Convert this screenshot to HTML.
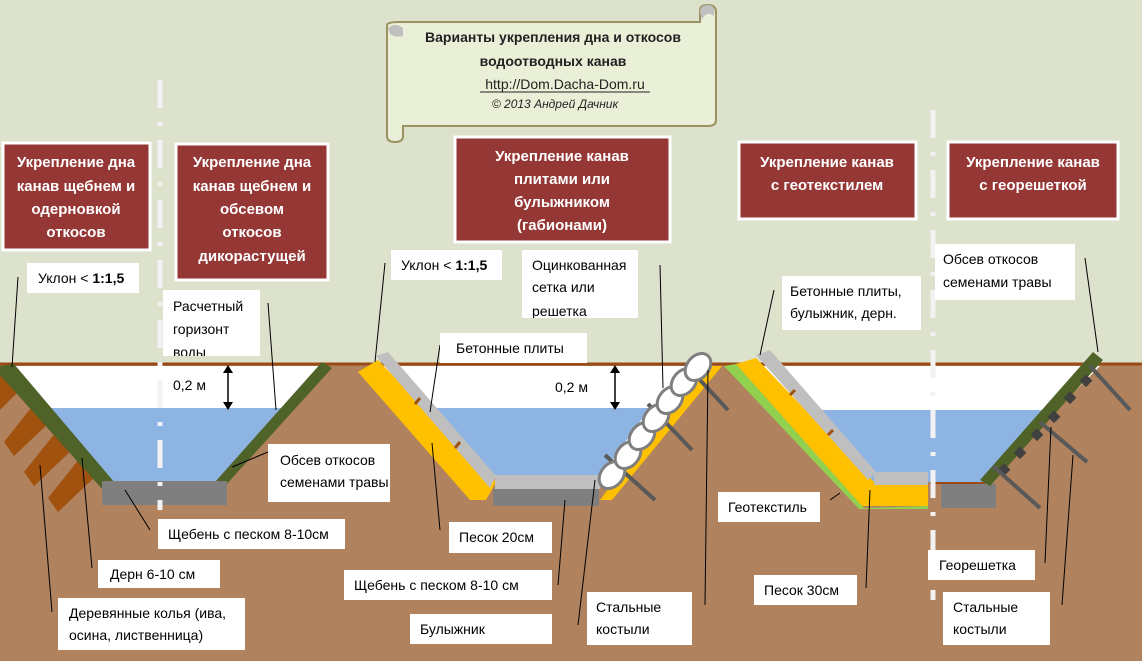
<!DOCTYPE html>
<html><head><meta charset="utf-8"><style>
body{margin:0;background:#dde2cc;}
svg{display:block}
text{font-family:"Liberation Sans","DejaVu Sans",sans-serif;}
.l{font-size:14px;fill:#000}
.t{font-size:15px;fill:#fff;font-weight:bold}
</style></head><body>
<svg width="1142" height="661" viewBox="0 0 1142 661" xmlns="http://www.w3.org/2000/svg">
<rect width="1142" height="661" fill="#dde2cc"/>
<rect x="0" y="364" width="1142" height="297" fill="#b0825e"/>
<line x1="0" y1="364" x2="1142" y2="364" stroke="#9a4a14" stroke-width="3"/>
<!-- Section 1 -->
<polygon points="8,366 325,366 218,482 108,482" fill="#fff"/>
<polygon points="42,408 283,408 218,481 105,481" fill="#8db4e2"/>
<g fill="#a0520e">
<polygon points="8,368 26,384 0,410 0,376"/>
<polygon points="34,404 52,420 14,456 4,442"/>
<polygon points="56,432 74,448 34,486 24,472"/>
<polygon points="80,458 98,474 58,512 48,498"/>
</g>
<polygon points="0,366 14,364 115,483 103,490 0,375" fill="#4f6228"/>
<polygon points="215,482 322,362 332,368 225,486" fill="#4f6228"/>
<rect x="102" y="481" width="125" height="24" fill="#7f7f7f"/>
<!-- Section 2 -->
<polygon points="375,366 712,366 600,476 495,476" fill="#fff"/>
<polygon points="425,408 650,408 600,476 492,476" fill="#8db4e2"/>
<polygon points="358,372 378,360 496,482 486,500 470,500" fill="#ffc000"/>
<polygon points="376,356 388,352 496,476 490,488" fill="#bfbfbf"/>
<line x1="415" y1="404" x2="420" y2="398" stroke="#a0520e" stroke-width="3"/>
<line x1="455" y1="448" x2="460" y2="442" stroke="#a0520e" stroke-width="3"/>
<rect x="495" y="475" width="105" height="14" fill="#bfbfbf"/>
<rect x="493" y="489" width="106" height="17" fill="#7f7f7f"/>
<polygon points="600,500 700,366 722,366 612,500" fill="#ffc000"/>
<g stroke="#595959" stroke-width="4">
<line x1="605" y1="455" x2="655" y2="500"/>
<line x1="648" y1="404" x2="692" y2="450"/>
<line x1="685" y1="364" x2="728" y2="410"/>
</g>
<g fill="#fff" stroke="#7f7f7f" stroke-width="3">
<ellipse cx="612" cy="475" rx="15" ry="11" transform="rotate(-50 612 475)"/>
<ellipse cx="628" cy="455" rx="15" ry="11" transform="rotate(-50 628 455)"/>
<ellipse cx="642" cy="436" rx="15" ry="11" transform="rotate(-50 642 436)"/>
<ellipse cx="656" cy="418" rx="15" ry="11" transform="rotate(-50 656 418)"/>
<ellipse cx="670" cy="400" rx="15" ry="11" transform="rotate(-50 670 400)"/>
<ellipse cx="684" cy="382" rx="15" ry="11" transform="rotate(-50 684 382)"/>
<ellipse cx="698" cy="367" rx="15" ry="11" transform="rotate(-50 698 367)"/>
</g>
<!-- Section 3 -->
<polygon points="760,366 1100,366 985,482 870,482 800,410" fill="#fff"/>
<polygon points="815,410 1045,410 985,482 870,482" fill="#8db4e2"/>
<polygon points="724,366 736,364 864,508 928,506 928,509 859,509" fill="#92d050"/>
<polygon points="736,364 756,358 876,484 928,484 928,506 862,506" fill="#ffc000"/>
<polygon points="756,355 770,350 876,472 868,480" fill="#bfbfbf"/>
<line x1="790" y1="395" x2="795" y2="390" stroke="#a0520e" stroke-width="3"/>
<line x1="828" y1="435" x2="833" y2="430" stroke="#a0520e" stroke-width="3"/>
<rect x="874" y="472" width="54" height="13" fill="#bfbfbf"/>
<!-- Section 4 -->
<rect x="941" y="484" width="55" height="24" fill="#7f7f7f"/>
<line x1="930" y1="483" x2="985" y2="483" stroke="#9a4a14" stroke-width="2"/>
<polygon points="980,480 1093,352 1103,360 990,486" fill="#4f6228"/>
<g fill="#404040">
<rect x="1000" y="465" width="9" height="9" transform="rotate(45 1004 469)"/>
<rect x="1016" y="448" width="9" height="9" transform="rotate(45 1020 452)"/>
<rect x="1033" y="430" width="9" height="9" transform="rotate(45 1037 434)"/>
<rect x="1050" y="412" width="9" height="9" transform="rotate(45 1054 416)"/>
<rect x="1066" y="393" width="9" height="9" transform="rotate(45 1070 397)"/>
<rect x="1082" y="376" width="9" height="9" transform="rotate(45 1086 380)"/>
</g>
<g stroke="#595959" stroke-width="4">
<line x1="993" y1="466" x2="1040" y2="508"/>
<line x1="1040" y1="422" x2="1087" y2="462"/>
<line x1="1090" y1="366" x2="1130" y2="410"/>
</g>
<g stroke="#f2f2f2" stroke-width="5" stroke-dasharray="28,14,4,14">
<line x1="160" y1="80" x2="160" y2="510"/>
<line x1="933" y1="110" x2="933" y2="600"/>
</g>
<g stroke="#000" stroke-width="1.5">
<line x1="228" y1="370" x2="228" y2="406"/><line x1="615" y1="370" x2="615" y2="406"/>
</g>
<g fill="#000">
<polygon points="228,365 223,373 233,373"/><polygon points="228,410 223,402 233,402"/>
<polygon points="615,365 610,373 620,373"/><polygon points="615,410 610,402 620,402"/>
</g>
<text class="l" x="173" y="390">0,2 м</text>
<text class="l" x="555" y="392">0,2 м</text>
<g stroke="#000" stroke-width="1" fill="none">
<line x1="18" y1="277" x2="12" y2="367"/>
<line x1="268" y1="303" x2="276" y2="410"/>
<line x1="385" y1="263" x2="375" y2="362"/>
<line x1="440" y1="345" x2="430" y2="412"/>
<line x1="660" y1="265" x2="663" y2="388"/>
<line x1="774" y1="290" x2="760" y2="355"/>
<line x1="1085" y1="258" x2="1098" y2="352"/>
<line x1="232" y1="467" x2="268" y2="452"/>
<line x1="125" y1="490" x2="150" y2="530"/>
<line x1="82" y1="458" x2="92" y2="568"/>
<line x1="40" y1="465" x2="52" y2="612"/>
<line x1="432" y1="443" x2="440" y2="530"/>
<line x1="565" y1="500" x2="558" y2="585"/>
<line x1="595" y1="480" x2="578" y2="625"/>
<line x1="708" y1="370" x2="705" y2="605"/>
<line x1="840" y1="493" x2="830" y2="500"/>
<line x1="870" y1="490" x2="866" y2="588"/>
<line x1="1051" y1="427" x2="1045" y2="563"/>
<line x1="1073" y1="455" x2="1062" y2="605"/>
</g>
<!-- scroll -->
<path d="M387,25 Q387,22 400,22 L700,22 L700,10 Q700,5 708,5 Q716,5 716,12 L716,120 Q716,126 708,126 L403,126 L403,136 Q403,142 395,142 Q387,142 387,136 Z" fill="#eaf0d8" stroke="#9a9260" stroke-width="2"/>
<path d="M700,12 Q700,5 708,5 Q716,5 714,16 Q706,10 702,20" fill="#c0c0c0"/>
<path d="M388,28 Q395,22 403,28 L403,36 Q395,38 390,34" fill="#c0c0c0"/>
<text x="553" y="42" text-anchor="middle" font-size="14" font-weight="bold" fill="#222">Варианты укрепления дна и  откосов</text>
<text x="553" y="66" text-anchor="middle" font-size="14" font-weight="bold" fill="#222">водоотводных канав</text>
<text x="565" y="89" text-anchor="middle" font-size="14" fill="#222">http://Dom.Dacha-Dom.ru</text>
<line x1="480" y1="92" x2="650" y2="92" stroke="#222" stroke-width="1"/>
<text x="555" y="108" text-anchor="middle" font-size="12" font-style="italic" fill="#222">© 2013 Андрей Дачник</text>
<g fill="#953735" stroke="#fff" stroke-width="3">
<rect x="3" y="143" width="147" height="107"/>
<rect x="176" y="144" width="152" height="136"/>
<rect x="455" y="137" width="215" height="105"/>
<rect x="739" y="142" width="177" height="77"/>
<rect x="948" y="142" width="170" height="77"/>
</g>
<g text-anchor="middle">
<text class="t" x="76" y="167">Укрепление дна</text>
<text class="t" x="76" y="191">канав щебнем и</text>
<text class="t" x="76" y="214">одерновкой</text>
<text class="t" x="76" y="237">откосов</text>
<text class="t" x="252" y="167">Укрепление дна</text>
<text class="t" x="252" y="191">канав щебнем и</text>
<text class="t" x="252" y="214">обсевом</text>
<text class="t" x="252" y="237">откосов</text>
<text class="t" x="252" y="261">дикорастущей</text>
<text class="t" x="562" y="161">Укрепление  канав</text>
<text class="t" x="562" y="184">плитами или</text>
<text class="t" x="562" y="207">булыжником</text>
<text class="t" x="562" y="230">(габионами)</text>
<text class="t" x="827" y="167">Укрепление  канав</text>
<text class="t" x="827" y="190">с геотекстилем</text>
<text class="t" x="1033" y="167">Укрепление  канав</text>
<text class="t" x="1033" y="190">с георешеткой</text>
</g>
<g fill="#fff">
<rect x="27" y="263" width="112" height="30"/>
<rect x="163" y="290" width="97" height="66"/>
<rect x="391" y="250" width="111" height="30"/>
<rect x="522" y="250" width="116" height="68"/>
<rect x="440" y="333" width="147" height="30"/>
<rect x="782" y="276" width="139" height="54"/>
<rect x="935" y="244" width="140" height="56"/>
<rect x="268" y="444" width="122" height="58"/>
<rect x="158" y="519" width="187" height="30"/>
<rect x="98" y="560" width="122" height="28"/>
<rect x="58" y="598" width="187" height="52"/>
<rect x="449" y="522" width="103" height="31"/>
<rect x="344" y="570" width="208" height="30"/>
<rect x="410" y="614" width="142" height="30"/>
<rect x="587" y="592" width="105" height="53"/>
<rect x="718" y="492" width="102" height="30"/>
<rect x="754" y="575" width="103" height="30"/>
<rect x="928" y="550" width="107" height="30"/>
<rect x="943" y="592" width="107" height="53"/>
</g>
<text class="l" x="38" y="283">Уклон &lt; <tspan font-weight="bold">1:1,5</tspan></text>
<text class="l" x="173" y="311">Расчетный</text>
<text class="l" x="173" y="334">горизонт</text>
<svg x="163" y="290" width="97" height="66"><text class="l" x="10" y="67">воды</text></svg>
<text class="l" x="401" y="270">Уклон &lt; <tspan font-weight="bold">1:1,5</tspan></text>
<text class="l" x="532" y="270">Оцинкованная</text>
<text class="l" x="532" y="292">сетка или</text>
<svg x="522" y="250" width="116" height="68"><text class="l" x="10" y="66">решетка</text></svg>
<text class="l" x="456" y="353">Бетонные плиты</text>
<text class="l" x="790" y="296">Бетонные плиты,</text>
<text class="l" x="790" y="318">булыжник, дерн.</text>
<text class="l" x="943" y="264">Обсев откосов</text>
<text class="l" x="943" y="287">семенами травы</text>
<text class="l" x="280" y="465">Обсев откосов</text>
<text class="l" x="280" y="487">семенами травы</text>
<text class="l" x="168" y="539">Щебень с песком 8-10см</text>
<text class="l" x="110" y="579">Дерн 6-10 см</text>
<text class="l" x="69" y="618">Деревянные колья (ива,</text>
<text class="l" x="69" y="640">осина, лиственница)</text>
<text class="l" x="459" y="542">Песок 20см</text>
<text class="l" x="354" y="590">Щебень с песком 8-10 см</text>
<text class="l" x="420" y="634">Булыжник</text>
<text class="l" x="596" y="612">Стальные</text>
<text class="l" x="596" y="634">костыли</text>
<text class="l" x="728" y="512">Геотекстиль</text>
<text class="l" x="764" y="595">Песок 30см</text>
<text class="l" x="939" y="570">Георешетка</text>
<text class="l" x="953" y="612">Стальные</text>
<text class="l" x="953" y="634">костыли</text>
</svg>
</body></html>
